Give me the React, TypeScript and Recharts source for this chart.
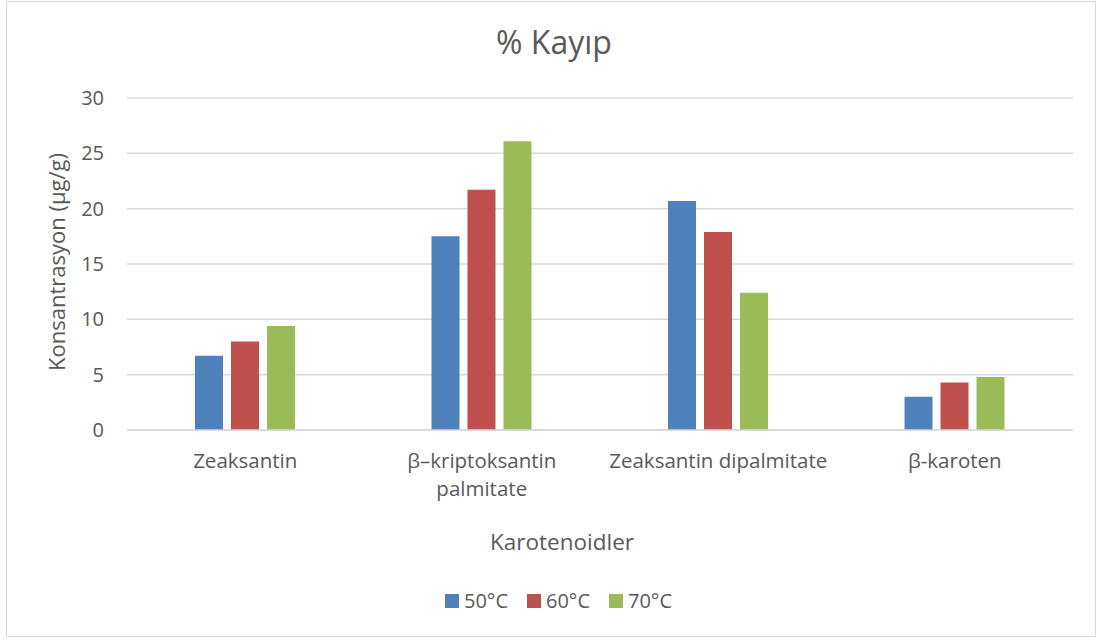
import { Bar, BarChart, CartesianGrid, XAxis, YAxis } from "recharts";

const categories = [
  "Zeaksantin",
  "β–kriptoksantin palmitate",
  "Zeaksantin dipalmitate",
  "β-karoten",
];
// tick text, one entry per category, split into the lines that get drawn
const categoryLines = [
  ["Zeaksantin"],
  ["β–kriptoksantin", "palmitate"],
  ["Zeaksantin dipalmitate"],
  ["β-karoten"],
];
const values50 = [6.7, 17.5, 20.7, 3.0];
const values60 = [8.0, 21.7, 17.9, 4.3];
const values70 = [9.4, 26.1, 12.4, 4.8];
const yTicks = [0, 5, 10, 15, 20, 25, 30];

const seriesNames = ["50°C", "60°C", "70°C"];
const seriesColors = ["#4F81BD", "#C0504D", "#9BBB59"];

const data = categories.map((name, i) => ({
  name,
  s50: values50[i],
  s60: values60[i],
  s70: values70[i],
}));

const FONT = "'Open Sans', sans-serif";
const TEXT = "#595959";
const GRID = "#d9d9d9";

function CategoryTick({ x, y, payload }: any) {
  const lines = categoryLines[payload.index] ?? [String(payload.value)];
  return (
    <text x={x} y={y} textAnchor="middle" fill={TEXT} fontSize={20.5} fontFamily={FONT}>
      {lines.map((line, i) => (
        <tspan key={i} x={x} dy={i === 0 ? 38 : 28}>
          {line}
        </tspan>
      ))}
    </text>
  );
}

export default function App() {
  return (
    <div style={{ position: "absolute", left: 0, top: 0, width: 1103, height: 641, background: "#fff", fontFamily: FONT }}>
      <div
        style={{
          position: "absolute",
          left: 6,
          top: 1,
          width: 1090,
          height: 636,
          border: `1px solid ${GRID}`,
          boxSizing: "border-box",
        }}
      />
      <div
        style={{
          position: "absolute",
          left: 0,
          width: 1108,
          top: 20,
          textAlign: "center",
          fontSize: 32,
          lineHeight: "44px",
          color: TEXT,
        }}
      >
        % Kayıp
      </div>
      <div style={{ position: "absolute", left: 0, top: 0 }}>
        <BarChart
          width={1103}
          height={641}
          data={data}
          margin={{ top: 98, right: 30, bottom: 111, left: 0 }}
          barSize={28}
          barGap={8}
        >
          <CartesianGrid vertical={false} stroke={GRID} strokeWidth={1.5} />
          <XAxis
            dataKey="name"
            height={100}
            interval={0}
            tickLine={false}
            tickSize={0}
            tickMargin={0}
            axisLine={{ stroke: GRID, strokeWidth: 1.5 }}
            tick={<CategoryTick />}
            label={{
              content: () => (
                <text x={562} y={550} textAnchor="middle" fill={TEXT} fontSize={22.5} fontFamily={FONT}>
                  Karotenoidler
                </text>
              ),
            }}
          />
          <YAxis
            width={127}
            domain={[0, 30]}
            ticks={yTicks}
            axisLine={false}
            tickLine={false}
            tickSize={0}
            tickMargin={23}
            tick={{ fill: TEXT, fontSize: 20, fontFamily: FONT }}
            label={{
              content: () => (
                <text
                  x={0}
                  y={0}
                  transform="translate(65, 262) rotate(-90)"
                  textAnchor="middle"
                  fill={TEXT}
                  fontSize={22}
                  fontFamily={FONT}
                >
                  Konsantrasyon (µg/g)
                </text>
              ),
            }}
          />
          <Bar dataKey="s50" name={seriesNames[0]} fill={seriesColors[0]} isAnimationActive={false} />
          <Bar dataKey="s60" name={seriesNames[1]} fill={seriesColors[1]} isAnimationActive={false} />
          <Bar dataKey="s70" name={seriesNames[2]} fill={seriesColors[2]} isAnimationActive={false} />
        </BarChart>
      </div>
      {/* legend row under the axis title */}
      <div
        style={{
          position: "absolute",
          left: 445,
          top: 587,
          display: "flex",
          alignItems: "center",
          fontSize: 20,
          color: TEXT,
        }}
      >
        {seriesNames.map((name, i) => (
          <div key={name} style={{ display: "flex", alignItems: "center", width: 82 }}>
            <span style={{ width: 14, height: 14, background: seriesColors[i], marginRight: 5 }} />
            <span>{name}</span>
          </div>
        ))}
      </div>
    </div>
  );
}
